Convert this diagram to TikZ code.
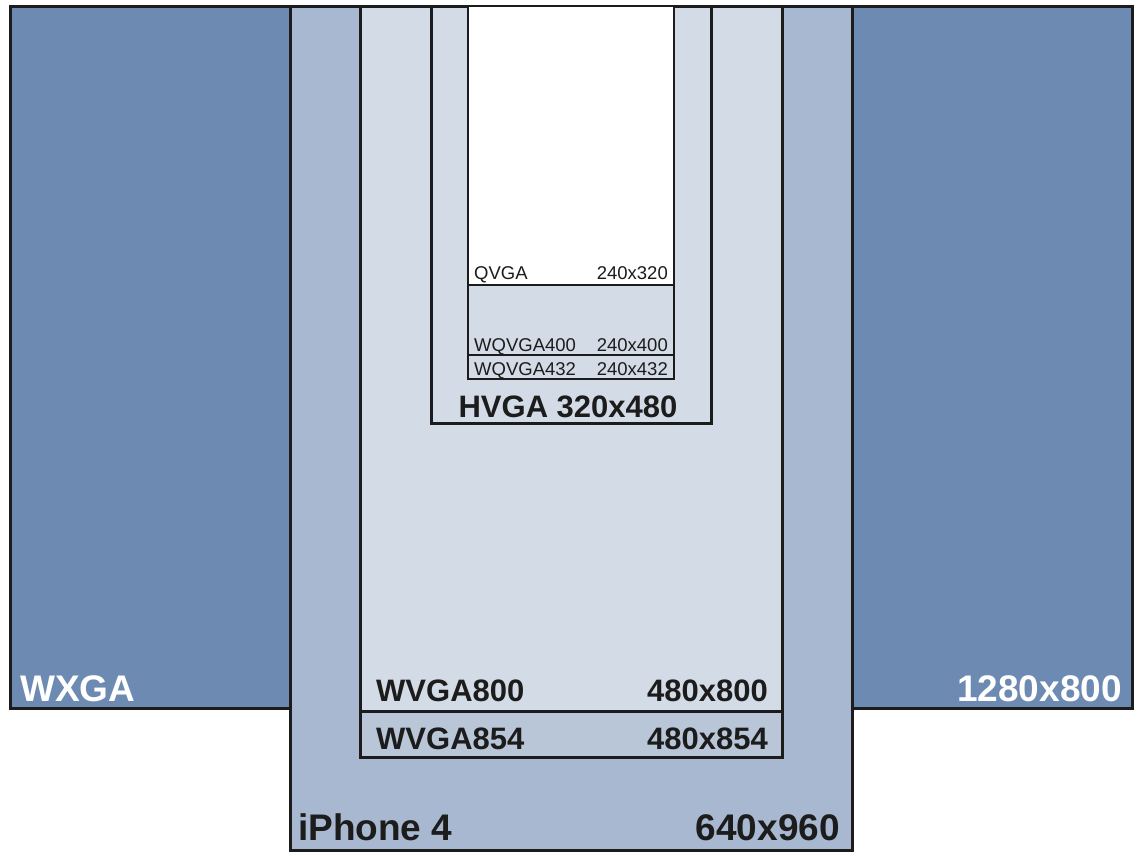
\documentclass[tikz,border=0pt]{standalone}
\usepackage{fontspec}
\setmainfont{Liberation Sans}
\definecolor{ink}{HTML}{1C1C1C}
\definecolor{wxga}{HTML}{6D8BB2}
\definecolor{iphone}{HTML}{A7B8D0}
\definecolor{wvga}{HTML}{B9C6D8}
\definecolor{pale}{HTML}{D3DCE6}

\tikzset{
  screen/.style={draw=ink,line width=3pt},
  thin screen/.style={draw=ink,line width=2.4pt},
  bigtext/.style={inner sep=0pt,font=\bfseries\fontsize{37}{40}\selectfont},
  midtext/.style={inner sep=0pt,text=ink,font=\bfseries\fontsize{31}{34}\selectfont},
  smalltext/.style={inner sep=0pt,text=ink,font=\fontsize{18.5}{20}\selectfont}
}

\begin{document}
\begin{tikzpicture}[x=1pt,y=-1pt]
  \useasboundingbox (0,0) rectangle (1142,855);
  % screens, largest first
  \filldraw[screen,fill=wxga] (10,6) rectangle (1132,708);
  \filldraw[screen,fill=iphone] (290,6) rectangle (852,850);
  \filldraw[screen,fill=wvga] (360,6) rectangle (782,757);
  \filldraw[screen,fill=pale] (360,6) rectangle (782,711);
  \filldraw[screen,fill=pale] (431,6) rectangle (711,423);
  \filldraw[thin screen,fill=pale] (468,6) rectangle (674,379);
  \draw[thin screen] (468,355) -- (674,355);
  \filldraw[thin screen,fill=white] (468,6) rectangle (674,285);
  % labels
  \node[bigtext,text=white,anchor=base west] (wxganame) at (20,701) {WXGA};
  \node[bigtext,text=white,anchor=base east] (wxgasize) at (1122,701) {1280x800};
  \node[bigtext,text=ink,anchor=base west] (iphonename) at (298,840) {iPhone 4};
  \node[bigtext,text=ink,anchor=base east] (iphonesize) at (840,840) {640x960};
  \node[midtext,anchor=base west] (wvga8name) at (376,701) {WVGA800};
  \node[midtext,anchor=base east] (wvga8size) at (768,701) {480x800};
  \node[midtext,anchor=base west] (wvga9name) at (376,749) {WVGA854};
  \node[midtext,anchor=base east] (wvga9size) at (768,749) {480x854};
  \node[midtext,anchor=base] (hvga) at (568,417) {HVGA 320x480};
  \node[smalltext,anchor=base west] (qvganame) at (474,279) {QVGA};
  \node[smalltext,anchor=base east] (qvgasize) at (668,279) {240x320};
  \node[smalltext,anchor=base west] (wq400name) at (474,351) {WQVGA400};
  \node[smalltext,anchor=base east] (wq400size) at (668,351) {240x400};
  \node[smalltext,anchor=base west] (wq432name) at (474,375) {WQVGA432};
  \node[smalltext,anchor=base east] (wq432size) at (668,375) {240x432};
\end{tikzpicture}
\end{document}
